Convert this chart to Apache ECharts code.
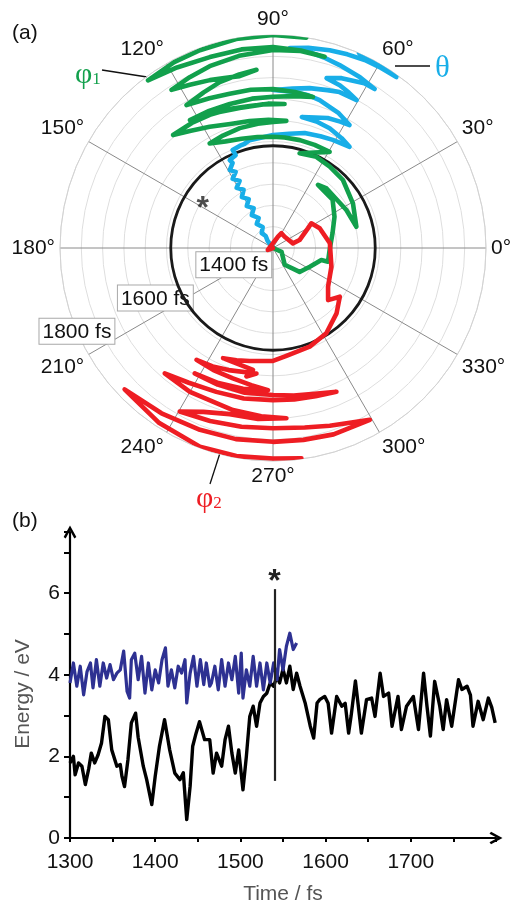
<!DOCTYPE html>
<html><head><meta charset="utf-8">
<script src="https://cdn.jsdelivr.net/npm/echarts@6/dist/echarts.min.js"></script>
<style>html,body{margin:0;padding:0;background:#fff}#c{width:515px;height:906px}</style>
</head><body><div id="c"></div>
<script>
// ---------- panel (a): polar trajectories (radius = time in fs, angle in degrees) ----------
const thetaRadius = [1300,1321,1333,1344,1355,1368,1378,1392,1404,1416,1428,1440,1453,1465,1476,1488,1499,1509,1521,1530,1535,1549,1552,1553,1559,
  1565,1571,1580,1585,1590,1598, 1604,1611,1614,1615, 1622,1631,1636,1640, 1652,1664,1668,1670,1671, 1677,1685,1692,1698,1699,
  1706,1713,1718, 1730,1742,1743, 1750,1757,1763,1768,1771, 1777,1783,1787,1791,1793,1795, 1800,1800];
const thetaAngle  = [120,127.1,121.3,127,116.1,124.2,115.5,122.8,115.8,122.1,116.4,121.5,116.8,121.2,116.4,120.3,116.1,119,115.4,116.2,111.9,112.4,108.1,105.7,102.2,
  90,82,74.6,67,61.1,52.9, 58,64.7,71,77.6, 72,67.2,62,58.1, 64,72.5,77,82.1,90, 83,77.1,71,66.9,60.5,
  64,67.7,72.5, 68,61,57.4, 63,70,75,79.4,85.2, 80,74,69,64,59,54.2, 61.6,66.2];

const phi1Radius = [1300,1322,1348,1384,1397,1417,1433,1433,1444,1462,1480,1482,1488,1494,1502,1515,1529,1533,1537,1531,
  1562,1561,1561,1561,1561,1563,1567,1574,1587,
  1589,1592,1594,1596,1600,
  1601,1603,1608,1621,1636,1654,
  1650,1646,1642,1638,1639,1639,
  1638,1638,1644,1658,
  1655,1653,1654,1655,1660,1667,
  1670,1673,1675,1676,1682,1692,
  1700,1709,1715,1720,
  1711,1715,1721,1730,1741,
  1746,1752,1758,1765,1767,1765,
  1768,1772,1772,1772,1780,1791,
  1794,1795,1798,1800,1800];
const phi1Angle  = [0,336,305,318,333,346,346,358,14,27,39,54.5,48,27.4,14.3,29.2,44.2,55.1,64.6,74.3,
  59.5,68,76,84,90,98,106,114,121.2,
  114,105.5,97,90,84,
  92,100.5,109,117.6,125,131.5,
  123,115.4,107,99.3,92,85.4,
  94,103.4,112,123,
  115,106.7,98,90,82,75.2,
  82,90,98,105.7,113,121.2,
  114,107.8,101,95.3,
  101,106,110.6,117,122.7,
  116,109.2,100,90,82,74.9,
  82,90,99,108.3,118,126.7,
  118,110.3,100,90,81];

const phi2Radius = [1300,1313,1329,1340,1338,1348,1365,1394,1407,1419,1434,1444,1458,1478,1494,1514,1536,1547,1555,1565,1571,1577,1584,
  1590,1608,1597, 1605,1612,1618, 1619,1620,1626,1634, 1638,1642,1647,
  1646,1646,1645,1650,1656,1669, 1662,1659,1657,1660,1663,1673,1689,
  1690,1692,1696,1701, 1703,1703,1718,1742,
  1732,1726,1723,1728,1738,1763, 1760,1756,1755,1757,1760,1768,1781,
  1790,1797,1796,1794,1798];
const phi2Angle  = [270,200.7,66.1,60.3,44,13.2,16.7,29.4,32.8,22.9,4.7,342.2,324.9,316.6,323.9,314.2,302,290.4,277.1,270,258.3,252,245.6,
  260.7,258.3,262.5, 250,243,235.6, 244,252.9,261,268, 258,248,238,
  248,259,270,278,286,293.8, 286,278,270,259,248.5,238,229.2,
  240,256.1,266,274.5, 265,255.4,247,240.3,
  250,260,270,280,287.7,299.4, 288,279,270,259,248.1,236,223.6,
  237,249.8,260,270,277.7];

const radiusLabels = [1400, 1600, 1800];
const markerTime = 1540;            // the "*" event
const starPolar = [1497, 147];

// ---------- panel (b): energies ----------
const blackTime = [1300,1304,1306,1310,1314,1318,1322,1325,1329,1333,1337,1341,1345,1349,1355,1359,1361,1364,1368,1372,1377,1380,1386,1390,1396,1400,1405,1411,1417,1423,1429,1433,1437,1441,1444,1448,1452,1458,1464,1468,1472,1478,1482,1486,1490,1494,1498,1503,1507,1511,1515,1519,1523,1527,1531,1535,1539,1543,1546,1550,1554,1558,1562,1566,1570,1576,1582,1586,1590,1593,1599,1603,1607,1613,1619,1623,1627,1630,1635,1638,1642,1648,1654,1658,1664,1668,1674,1678,1685,1689,1695,1703,1709,1715,1719,1723,1728,1734,1738,1742,1748,1756,1760,1766,1770,1773,1779,1785,1791,1795,1799];
const blackEnergy = [1.84,2.0,1.55,1.84,1.76,1.31,1.7,2.08,1.84,2.04,2.33,2.98,2.9,2.16,1.76,1.8,1.51,1.26,1.92,2.82,3.06,2.47,1.76,1.43,0.82,1.51,2.25,2.9,2.16,1.59,1.43,1.6,0.45,1.27,2.25,2.57,2.85,2.41,2.41,1.59,2.08,1.76,2.41,2.74,2.08,1.59,2.16,1.18,2.0,2.98,3.23,2.74,3.31,3.47,3.55,3.8,3.72,3.96,3.8,4.14,3.8,4.21,3.64,4.04,3.72,3.31,2.74,2.45,3.31,3.39,3.47,3.3,2.57,3.47,3.23,3.3,2.57,3.0,3.85,3.31,2.57,3.39,3.43,2.98,4.04,3.47,3.55,2.74,3.47,2.66,3.23,3.47,2.66,4.04,3.23,2.5,3.84,3.23,2.66,3.39,2.74,3.88,3.64,3.72,3.5,2.74,3.35,2.9,3.43,3.2,2.82];
const blueTime = [1300,1304,1308,1312,1316,1320,1324,1327,1331,1335,1339,1343,1347,1351,1355,1359,1363,1367,1370,1372,1376,1380,1384,1388,1392,1396,1400,1404,1408,1412,1415,1419,1423,1427,1431,1435,1437,1441,1445,1449,1453,1457,1460,1464,1466,1470,1474,1478,1482,1486,1490,1494,1498,1501,1503,1507,1511,1515,1519,1523,1527,1531,1535,1539,1543,1546,1550,1554,1558,1562,1566];
const blueEnergy = [3.80,4.29,3.72,4.21,3.51,4.08,4.29,3.68,4.37,3.72,4.29,3.92,4.25,3.88,4.04,4.12,4.58,3.59,3.43,4.37,4.53,3.88,4.45,3.55,4.29,3.63,4.12,3.80,4.37,4.66,3.72,4.12,3.68,4.21,4.04,4.37,3.31,4.04,4.45,3.72,4.37,3.76,4.29,3.72,3.80,4.21,3.63,4.37,3.72,4.29,3.88,4.45,3.55,4.53,3.43,4.12,3.72,4.45,3.72,4.29,3.63,4.29,3.80,4.29,3.88,4.62,4.12,4.70,5.02,4.62,4.78];
const markerLine = [1.4, 6.1];

const xTicks = {min: 1300, max: 1800, step: 50, labelStep: 100};
const yTicks = {min: 0, max: 7.5, step: 1};

const FONT = 'Liberation Sans, Arial, sans-serif';
const SERIF = 'Liberation Serif, Times New Roman, serif';
const pair = (a, b) => a.map((v, i) => [v, b[i]]);
const CHEV = 'path://M5,0 L10,9 L8.4,10.2 L5,4 L1.6,10.2 L0,9 Z';

const chart = echarts.init(document.getElementById('c'), null, {renderer: 'canvas'});
const polarLine = (name, r, a, color) => ({
  name, type: 'line', coordinateSystem: 'polar', polarIndex: 0,
  data: pair(r, a), showSymbol: false, symbol: 'none', animation: false,
  lineStyle: {color, width: 4.6, join: 'round', cap: 'round'}, z: 4
});

chart.setOption({
  animation: false,
  textStyle: {fontFamily: FONT},
  polar: [{center: [273, 248], radius: 213}, {center: [273, 248], radius: 213}],
  angleAxis: [
    {polarIndex: 0, type: 'value', min: 0, max: 360, interval: 30, startAngle: 0, clockwise: false,
     axisLine: {show: true, lineStyle: {color: '#d2d2d2', width: 1}},
     axisTick: {show: false},
     splitLine: {show: true, lineStyle: {color: '#8a8a8a', width: 1}},
     axisLabel: {formatter: v => v >= 360 ? '' : v + '°', fontSize: 21, color: '#111', margin: 5, fontFamily: FONT}},
    {polarIndex: 1, type: 'value', min: 0, max: 360, startAngle: 203, clockwise: false, show: false}
  ],
  radiusAxis: [
    {polarIndex: 0, type: 'value', min: 1300, max: 1800, interval: 50,
     axisLine: {show: false}, axisTick: {show: false}, axisLabel: {show: false},
     splitLine: {show: true, lineStyle: {color: '#dedede', width: 1}}},
    {polarIndex: 1, type: 'value', min: 1300, max: 1800, interval: 100,
     axisLine: {show: false}, axisTick: {show: false}, splitLine: {show: false},
     axisLabel: {margin: 0, align: 'center', verticalAlign: 'middle',
       formatter: v => radiusLabels.includes(v) ? '{b|' + v + ' fs}' : '',
       rich: {b: {fontSize: 21, color: '#111', fontFamily: FONT, backgroundColor: '#fff',
                  borderColor: '#a8a8a8', borderWidth: 1, padding: [3, 3, 1, 3]}}}}
  ],
  grid: {left: 70, right: 19, top: 532, bottom: 68},
  xAxis: {type: 'value', min: xTicks.min, max: xTicks.max, interval: xTicks.step,
    axisLine: {show: true, symbol: ['none', CHEV], symbolSize: [13, 13], lineStyle: {color: '#000', width: 2.2}},
    axisTick: {show: true, length: 4, lineStyle: {color: '#000', width: 2}},
    splitLine: {show: false},
    axisLabel: {fontSize: 21, color: '#111', margin: 14, fontFamily: FONT,
      formatter: v => (v % xTicks.labelStep === 0 && v < xTicks.max) ? String(v) : ''},
    name: 'Time / fs', nameLocation: 'middle', nameGap: 46,
    nameTextStyle: {fontSize: 21, color: '#555', fontFamily: FONT}},
  yAxis: {type: 'value', min: yTicks.min, max: yTicks.max, interval: yTicks.step,
    axisLine: {show: true, symbol: ['none', CHEV], symbolSize: [13, 13], lineStyle: {color: '#000', width: 2.2}},
    axisTick: {show: true, length: 6, lineStyle: {color: '#000', width: 2}},
    splitLine: {show: false},
    axisLabel: {fontSize: 21, color: '#111', margin: 10, fontFamily: FONT,
      formatter: v => (v % 2 === 0 && v <= 6) ? String(v) : ''},
    name: 'Energy / eV', nameLocation: 'middle', nameGap: 36, nameRotate: 90,
    nameTextStyle: {fontSize: 21, color: '#555', fontFamily: FONT, padding: [0, 18, 0, 0]}},
  series: [
    {type: 'custom', coordinateSystem: 'polar', polarIndex: 0, data: [[markerTime, 0]], z: 3,
     renderItem: (params, api) => {
       const c = api.coord([1300, 0]);
       const p = api.coord([api.value(0), api.value(1)]);
       const r = Math.hypot(p[0] - c[0], p[1] - c[1]);
       return {type: 'circle', shape: {cx: c[0], cy: c[1], r: r}, style: {fill: 'none', stroke: '#1a1a1a', lineWidth: 2.8}};
     }},
    polarLine('θ', thetaRadius, thetaAngle, '#18aee8'),
    polarLine('φ1', phi1Radius, phi1Angle, '#12a04c'),
    polarLine('φ2', phi2Radius, phi2Angle, '#ee1d23'),
    {type: 'scatter', coordinateSystem: 'polar', polarIndex: 0, data: [starPolar], symbolSize: 1,
     itemStyle: {color: 'rgba(0,0,0,0)'},
     label: {show: true, formatter: '*', position: 'inside', fontSize: 32, fontWeight: 'bold', color: '#222', fontFamily: FONT, offset: [0, 7]}},
    {type: 'line', xAxisIndex: 0, yAxisIndex: 0, data: pair(blackTime, blackEnergy), showSymbol: false, symbol: 'none',
     lineStyle: {color: '#000', width: 3.4, join: 'round'}, z: 3,
     markLine: {symbol: 'none', silent: true, animation: false,
       lineStyle: {color: '#222', width: 2.2, type: 'solid'},
       label: {show: true, position: 'end', formatter: '*', fontSize: 32, fontWeight: 'bold', color: '#222', distance: 0, offset: [0, 9], fontFamily: FONT},
       data: [[{coord: [markerTime, markerLine[0]]}, {coord: [markerTime, markerLine[1]]}]]}},
    {type: 'line', xAxisIndex: 0, yAxisIndex: 0, data: pair(blueTime, blueEnergy), showSymbol: false, symbol: 'none',
     lineStyle: {color: '#2e3192', width: 3.2, join: 'round'}, z: 4}
  ],
  graphic: [
    {type: 'text', left: 12, top: 23, style: {text: '(a)', fontSize: 21, fill: '#111', fontFamily: FONT}},
    {type: 'text', left: 12, top: 511, style: {text: '(b)', fontSize: 21, fill: '#111', fontFamily: FONT}},
    {type: 'line', shape: {x1: 102, y1: 70, x2: 147, y2: 77}, style: {stroke: '#111', lineWidth: 1.3}},
    {type: 'line', shape: {x1: 395, y1: 66, x2: 430, y2: 66}, style: {stroke: '#111', lineWidth: 1.3}},
    {type: 'line', shape: {x1: 220, y1: 453, x2: 210, y2: 484}, style: {stroke: '#111', lineWidth: 1.3}},
    {type: 'text', left: 75, top: 60, style: {text: '{p|φ}{s|1}', rich: {
       p: {fontSize: 30, fill: '#12a04c', fontFamily: SERIF, verticalAlign: 'bottom'},
       s: {fontSize: 17, fill: '#12a04c', fontFamily: SERIF, verticalAlign: 'bottom', padding: [0, 0, 2, 0]}}}},
    {type: 'text', left: 435, top: 53, style: {text: 'θ', fontSize: 31, fill: '#18aee8', fontFamily: SERIF}},
    {type: 'text', left: 196, top: 484, style: {text: '{p|φ}{s|2}', rich: {
       p: {fontSize: 30, fill: '#ee1d23', fontFamily: SERIF, verticalAlign: 'bottom'},
       s: {fontSize: 17, fill: '#ee1d23', fontFamily: SERIF, verticalAlign: 'bottom', padding: [0, 0, 2, 0]}}}}
  ]
});
</script>
</body></html>
